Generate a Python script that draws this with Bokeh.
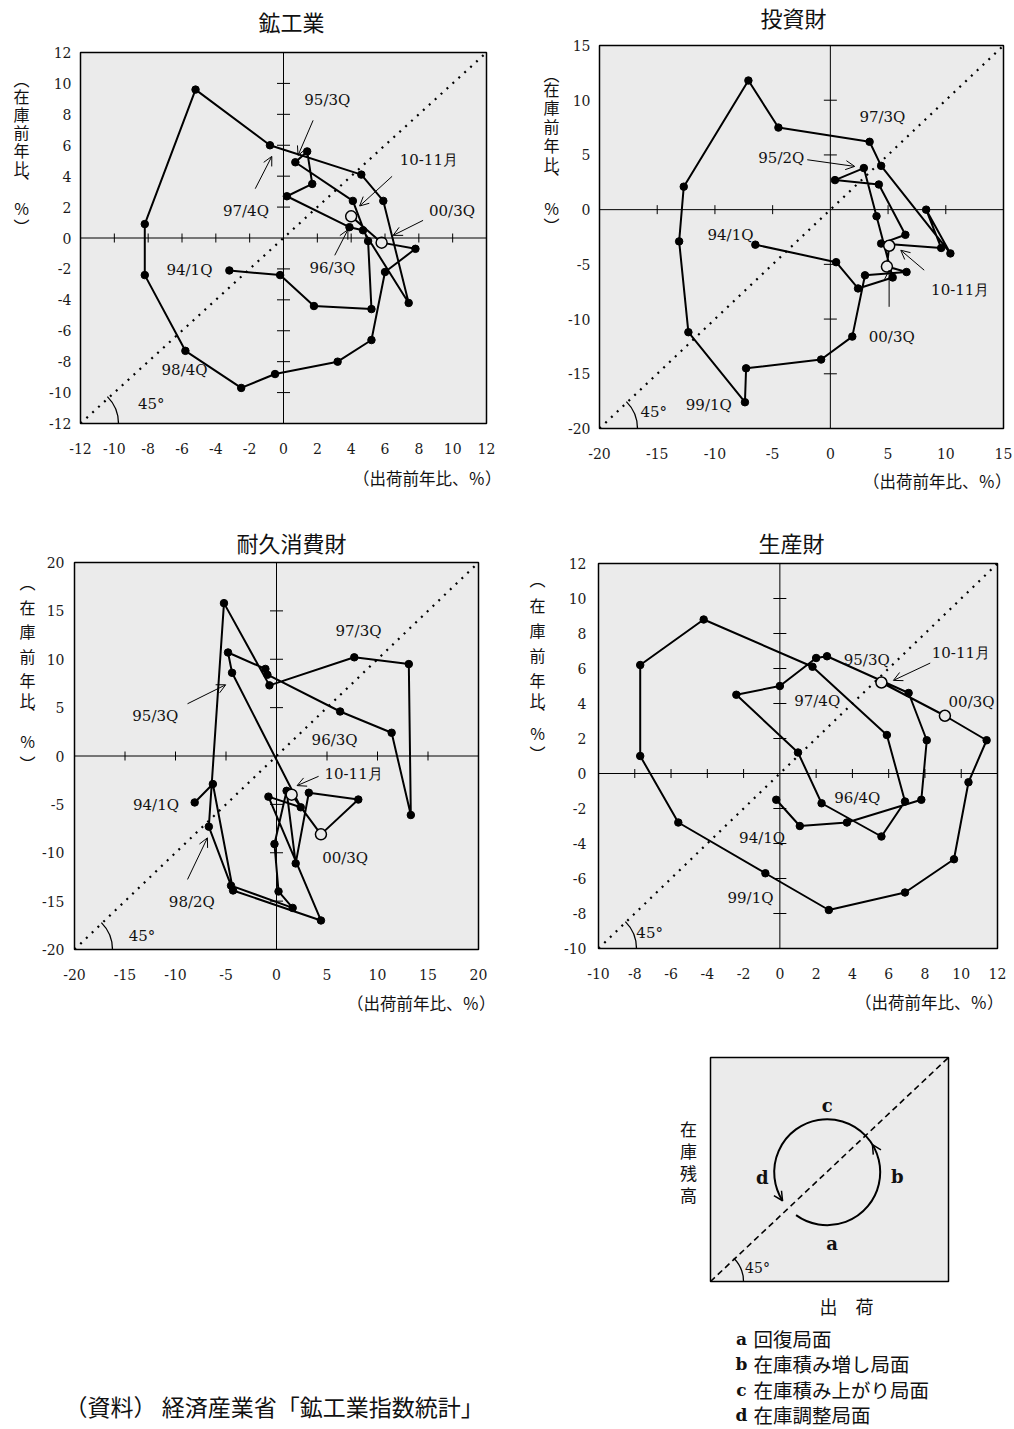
import numpy as np
from bokeh.plotting import figure
from bokeh.layouts import column, row
from bokeh.models import Label, Span, Arrow, OpenHead, FixedTicker, Range1d, Title
from bokeh.embed import file_html
from bokeh.resources import INLINE
from bokeh.core.properties import value

# ---------------- data ----------------
periods = ["94/1Q", "94/2Q", "94/3Q", "94/4Q", "95/1Q", "95/2Q", "95/3Q", "95/4Q",
           "96/1Q", "96/2Q", "96/3Q", "96/4Q", "97/1Q", "97/2Q", "97/3Q", "97/4Q",
           "98/1Q", "98/2Q", "98/3Q", "98/4Q", "99/1Q", "99/2Q", "99/3Q", "99/4Q",
           "00/1Q", "00/2Q", "00/3Q", "10-11月"]

# 鉱工業  (shipments y/y, inventory y/y)
ship_mining = [-3.2, -0.2, 1.8, 5.2, 5.0, 4.1, 0.7, 1.4, 1.7, 0.2, 3.9, 4.7, 7.4, 5.9,
               4.6, -0.8, -5.2, -8.2, -8.2, -5.8, -2.5, -0.5, 3.2, 5.2, 6.0, 7.8, 5.8, 4.0]
inv_mining = [-2.1, -2.4, -4.4, -4.6, -0.2, 2.4, 4.9, 5.6, 3.5, 2.7, 0.7, 0.5, -4.2, 2.4,
              4.1, 6.0, 9.6, 0.9, -2.4, -7.3, -9.7, -8.8, -8.0, -6.6, -2.2, -0.7, -0.3, 1.4]

# 投資財
ship_invest = [-6.5, 0.5, 2.4, 5.4, 4.0, 2.9, 0.4, 4.2, 6.5, 4.4, 9.6, 8.3, 10.4, 4.4,
               3.4, -4.5, -7.1, -12.7, -13.1, -12.3, -7.4, -7.3, -0.8, 1.9, 3.0, 6.6, 4.9, 5.1]
inv_invest = [-3.2, -4.8, -7.2, -6.2, -0.6, 3.8, 2.7, 2.3, -2.3, -3.1, -3.5, 0.0, -4.0, 4.0,
              6.2, 7.5, 11.8, 2.1, -2.9, -11.2, -17.6, -14.5, -13.7, -11.6, -6.0, -5.7, -5.2, -3.3]

# 耐久消費財
ship_durable = [-8.1, -6.3, -4.3, 4.4, -0.8, 2.4, -4.4, -4.8, -1.1, -0.9, 6.3, 11.4, 13.3, 13.1,
                7.7, -0.7, -5.2, -6.7, -4.5, 1.6, 0.2, -0.2, 1.0, 1.9, 3.2, 8.1, 4.4, 1.5]
inv_durable = [-4.8, -2.9, -13.9, -17.0, -4.2, -5.3, 8.6, 10.7, 9.0, 8.4, 4.6, 2.4, -6.1, 9.5,
               10.2, 7.3, 15.8, -7.3, -13.4, -15.7, -14.0, -9.1, -3.6, -11.1, -3.8, -4.5, -8.1, -4.0]

# 生産財
ship_producer = [-0.2, 1.1, 3.7, 7.8, 8.1, 7.1, 2.6, 2.0, 0.0, -2.4, 1.0, 2.3, 5.6, 6.9,
                 5.9, 1.8, -4.2, -7.7, -7.7, -5.6, -0.8, 2.7, 6.9, 9.6, 10.4, 11.4, 9.1, 5.6]
inv_producer = [-1.5, -3.0, -2.8, -1.5, 1.9, 4.6, 6.7, 6.6, 5.0, 4.5, 1.2, -1.7, -3.6, -1.6,
                2.2, 6.1, 8.8, 6.2, 1.0, -2.8, -5.7, -7.8, -6.8, -4.9, -0.5, 1.9, 3.3, 5.2]

# tick values / labels
ticks_mining = [-12, -10, -8, -6, -4, -2, 0, 2, 4, 6, 8, 10, 12]
ticks_invest = [-20, -15, -10, -5, 0, 5, 10, 15]
ticks_durable = [-20, -15, -10, -5, 0, 5, 10, 15, 20]
ticks_producer = [-10, -8, -6, -4, -2, 0, 2, 4, 6, 8, 10, 12]
labels_mining = [str(t) for t in ticks_mining]
labels_invest = [str(t) for t in ticks_invest]
labels_durable = [str(t) for t in ticks_durable]
labels_producer = [str(t) for t in ticks_producer]

titles = ["鉱工業", "投資財", "耐久消費財", "生産財"]
x_title = "（出荷前年比、％）"
y_title_chars = ["︵", "在", "庫", "前", "年", "比", "︑", "%", "︶"]
legend_letters = ["a", "b", "c", "d"]
legend_texts = ["回復局面", "在庫積み増し局面", "在庫積み上がり局面", "在庫調整局面"]
source_text = "（資料） 経済産業省「鉱工業指数統計」"

SERIF = "DejaVu Serif"
JP = "Noto Sans CJK JP"
BG = "#ebebeb"
INK = "#111111"


def blank_fig(w, h, xr, yr, bl=0, br=0):
    f = figure(width=w, height=h, x_range=Range1d(*xr), y_range=Range1d(*yr),
               output_backend="svg", toolbar_location=None, min_border=0,
               min_border_left=bl, min_border_right=br,
               x_axis_location=None, y_axis_location=None, outline_line_color=None,
               background_fill_color="white", border_fill_color="white")
    f.grid.visible = False
    return f


def ytitle_fig(w, h, row_top, cx, ys):
    f = blank_fig(w, h, (0, w), (0, h))
    f.text(x=[cx] * len(ys), y=[h - (y - row_top) for y in ys], text=y_title_chars,
           text_font=value(JP), text_font_size="16px", text_align="center",
           text_baseline="middle", text_color=INK)
    return f


def title_strip(cfg, S, row_top):
    w = cfg["size"][0]
    bl, br = cfg["borders"][0], cfg["borders"][1]
    fx0, fx1 = cfg["fx"]
    f = blank_fig(w, S, (fx0, fx1), (0, S), bl=bl, br=br)
    tx, ty = cfg["title_pos"]
    f.text(x=[tx], y=[S - (ty - row_top)], text=[cfg["title"]], text_font=value(JP),
           text_font_size="22px", text_align="center", text_baseline="middle", text_color=INK)
    return f


def make_panel(cfg):
    w, h = cfg["size"]
    bl, br, bt, bb = cfg["borders"]
    xr, yr = cfg["xr"], cfg["yr"]
    p = figure(width=w, height=h, x_range=Range1d(*xr), y_range=Range1d(*yr),
               output_backend="svg", toolbar_location=None,
               min_border_left=bl, min_border_right=br, min_border_top=bt, min_border_bottom=bb,
               background_fill_color=BG, border_fill_color="white",
               outline_line_color="black", outline_line_width=1.5)
    p.grid.visible = False

    ticks, labs = cfg["ticks"], cfg["labels"]
    for ax in (p.xaxis, p.yaxis):
        ax.ticker = FixedTicker(ticks=ticks)
        ax.major_label_overrides = {t: l for t, l in zip(ticks, labs)}
        ax.axis_line_color = None
        ax.major_tick_line_color = None
        ax.minor_tick_line_color = None
        ax.major_tick_out = 0
        ax.major_tick_in = 0
        ax.minor_tick_out = 0
        ax.major_label_text_font = SERIF
        ax.major_label_text_font_size = "14px"
        ax.major_label_text_color = "#1a1a1a"
    p.xaxis.major_label_standoff = 19
    p.yaxis.major_label_standoff = cfg["ystand"]

    # zero axes with cross ticks
    p.add_layout(Span(location=0, dimension="width", line_color="black", line_width=1))
    p.add_layout(Span(location=0, dimension="height", line_color="black", line_width=1))
    inner = [t for t in ticks if t != 0]
    ix = [t for t in inner if xr[0] < t < xr[1]]
    iy = [t for t in inner if yr[0] < t < yr[1]]
    p.scatter(ix, [0] * len(ix), marker="dash", size=9, angle=np.pi / 2,
              line_color="black", line_width=1)
    p.scatter([0] * len(iy), iy, marker="dash", size=13, line_color="black", line_width=1)

    # 45 degree line and arc
    lo, hi = max(xr[0], yr[0]), min(xr[1], yr[1])
    p.line([lo, hi], [lo, hi], line_dash="2 6", line_width=2.2, line_color="black")
    p.arc(x=[lo], y=[lo], radius=38, radius_units="screen", start_angle=0,
          end_angle=np.pi / 4, line_color="black", line_width=1.3)

    # series
    xs, ys = cfg["x"], cfg["y"]
    p.line(xs, ys, line_color="black", line_width=2)
    p.scatter(xs[:-2], ys[:-2], size=7.5, fill_color="black", line_color="black")
    p.scatter(xs[-2:], ys[-2:], size=11, fill_color=BG, line_color="black", line_width=1.5)

    for t, x, y in cfg["texts"]:
        p.add_layout(Label(x=x, y=y, text=t, text_font=SERIF, text_font_size="15px",
                           text_align="center", text_baseline="middle", text_color=INK))
    for x0, y0, x1, y1 in cfg["arrows"]:
        p.add_layout(Arrow(end=OpenHead(size=9, line_width=1, line_color="black"),
                           x_start=x0, y_start=y0, x_end=x1, y_end=y1,
                           line_width=1, line_color="black"))

    p.add_layout(Title(text=x_title, align="right", text_font=JP, text_font_size="16.5px",
                       text_font_style="normal", text_color=INK, standoff=cfg["xstand"],
                       offset=cfg["xoff"]), "below")
    return p


# row 1: strip 0..36, panels 36..520 ; row 2: strip 520..556, panels 556..1020
panels = [
    dict(size=(491, 484), borders=(46, 39, 16, 97), fx=(80, 486), xr=(-12, 12), yr=(-12, 12),
         ticks=ticks_mining, labels=labels_mining, x=ship_mining, y=inv_mining, ystand=9,
         title=titles[0], title_pos=(291, 20), xstand=14, xoff=-15,
         texts=[("95/3Q", 2.59, 8.90), ("10-11月", 8.59, 5.02), ("97/4Q", -2.22, 1.75),
                ("00/3Q", 9.96, 1.75), ("96/3Q", 2.89, -1.94), ("94/1Q", -5.56, -2.05),
                ("98/4Q", -5.85, -8.56), ("45°", -7.82, -10.71)],
         arrows=[(1.75, 7.61, 0.86, 5.34), (6.42, 3.99, 4.50, 2.07), (-1.67, 3.19, -0.69, 5.28),
                 (8.25, 1.14, 6.48, 0.17), (3.03, -1.12, 3.81, 0.54)]),
    dict(size=(452, 484), borders=(37, 11, 9, 92), fx=(599, 1003), xr=(-20, 15), yr=(-20, 15),
         ticks=ticks_invest, labels=labels_invest, x=ship_invest, y=inv_invest, ystand=9,
         title=titles[1], title_pos=(793, 16), xstand=11, xoff=-8,
         texts=[("97/3Q", 4.51, 8.45), ("95/2Q", -4.25, 4.74), ("94/1Q", -8.65, -2.34),
                ("10-11月", 11.25, -7.36), ("00/3Q", 5.32, -11.61), ("99/1Q", -10.53, -17.84),
                ("45°", -15.30, -18.51)],
         arrows=[(-2.0, 4.56, 2.11, 3.95), (8.13, -5.53, 6.10, -3.71), (5.09, -8.88, 5.09, -5.53)]),
    dict(size=(487, 464), borders=(34, 47, 6, 70), fx=(72, 478), xr=(-20, 20), yr=(-20, 20),
         ticks=ticks_durable, labels=labels_durable, x=ship_durable, y=inv_durable, ystand=10,
         title=titles[2], title_pos=(290, 541), xstand=12, xoff=-17,
         texts=[("97/3Q", 8.12, 12.87), ("95/3Q", -12.0, 4.09), ("96/3Q", 5.75, 1.69),
                ("10-11月", 7.63, -1.82), ("94/1Q", -11.93, -5.02), ("00/3Q", 6.80, -10.53),
                ("98/2Q", -8.38, -15.07), ("45°", -13.31, -18.61)],
         arrows=[(-8.81, 5.40, -5.03, 7.36), (4.17, -2.10, 2.04, -3.06), (-8.81, -12.76, -6.84, -8.46)]),
    dict(size=(456, 464), borders=(40, 17, 7, 71), fx=(598, 997), xr=(-10, 12), yr=(-10, 12),
         ticks=ticks_producer, labels=labels_producer, x=ship_producer, y=inv_producer, ystand=12,
         title=titles[3], title_pos=(791, 541), xstand=13, xoff=-6,
         texts=[("10-11月", 9.98, 6.88), ("95/3Q", 4.79, 6.50), ("00/3Q", 10.57, 4.07),
                ("97/4Q", 2.06, 4.13), ("96/4Q", 4.27, -1.39), ("94/1Q", -0.98, -3.67),
                ("99/1Q", -1.62, -7.09), ("45°", -7.18, -9.09)],
         arrows=[(8.29, 6.31, 6.26, 5.32)]),
]

figs = [make_panel(c) for c in panels]
strips = [title_strip(panels[0], 36, 0), title_strip(panels[1], 36, 0),
          title_strip(panels[2], 36, 520), title_strip(panels[3], 36, 520)]

yt1 = ytitle_fig(34, 520, 0, 21, [78, 95, 113, 131, 149, 167, 181, 207, 225])
yt2 = ytitle_fig(37, 520, 0, 26, [73, 88, 106, 125, 144, 163, 177, 207, 224])
yt3 = ytitle_fig(38, 500, 520, 27, [581, 606, 630, 655, 679, 699, 712, 740, 762])
yt4 = ytitle_fig(33, 500, 520, 12, [578, 604, 629, 654, 679, 699, 712, 732, 752])

# ---------------- bottom-left: source ----------------
p5 = blank_fig(525, 409, (0, 525), (0, 409))
p5.text(x=[64], y=[1429 - 1405], text=[source_text], text_font=value(JP), text_font_size="23px",
        text_align="left", text_baseline="middle", text_color=INK)

# ---------------- bottom-right: schematic (local coords: box = 0..238 x 0..224) ----------------
p6 = blank_fig(489, 409, (-185, 304), (-148, 261))
p6.quad(left=[0], right=[238], bottom=[0], top=[224], fill_color=BG,
        line_color="black", line_width=1.5)
p6.line([0, 238], [0, 224], line_dash="6 4", line_width=1.6, line_color="black")
cx, cy, r = 116.7, 109.3, 53
p6.arc(x=[cx], y=[cy], radius=r, start_angle=np.deg2rad(234), end_angle=np.deg2rad(212.6),
       direction="anticlock", line_color="black", line_width=2)
for ang in (212.6, 31.4):
    t = np.deg2rad(ang)
    ex, ey = cx + r * np.cos(t), cy + r * np.sin(t)
    tx, ty = -np.sin(t), np.cos(t)
    p6.add_layout(Arrow(end=OpenHead(size=9, line_width=1.5, line_color="black"),
                        x_start=ex - 3 * tx, y_start=ey - 3 * ty, x_end=ex, y_end=ey,
                        line_width=1.5, line_color="black"))
p6.arc(x=[0], y=[0], radius=33, radius_units="screen", start_angle=0, end_angle=np.pi / 4,
       line_color="black", line_width=1.3)
p6.text(x=[47], y=[14], text=["45°"], text_font=value(SERIF), text_font_size="14px",
        text_align="center", text_baseline="middle", text_color=INK)
p6.text(x=[116.7, 186.7, 51.7, 121.7], y=[176, 105, 104.3, 37.7], text=["c", "b", "d", "a"],
        text_font=value(SERIF), text_font_size="18px", text_font_style="bold",
        text_align="center", text_baseline="middle", text_color=INK)
p6.text(x=[688 - 710] * 4, y=[1281 - py for py in [1128, 1150, 1172, 1194]], text=list("在庫残高"),
        text_font=value(JP), text_font_size="17px", text_align="center", text_baseline="middle",
        text_color=INK)
p6.text(x=[846 - 710], y=[1281 - 1305], text=["出　荷"], text_font=value(JP), text_font_size="18px",
        text_align="center", text_baseline="middle", text_color=INK)
leg_y = [1281 - py for py in [1338, 1363, 1389, 1414]]
p6.text(x=[741 - 710] * 4, y=leg_y, text=legend_letters, text_font=value(SERIF),
        text_font_size="17px", text_font_style="bold", text_align="center",
        text_baseline="middle", text_color=INK)
p6.text(x=[753 - 710] * 4, y=leg_y, text=legend_texts, text_font=value(JP),
        text_font_size="19.5px", text_align="left", text_baseline="middle", text_color=INK)

layout = column(
    row(column(yt1), column(strips[0], figs[0]), column(yt2), column(strips[1], figs[1])),
    row(column(yt3), column(strips[2], figs[2]), column(yt4), column(strips[3], figs[3])),
    row(column(p5), column(p6)),
)
open("out.html", "w").write(file_html(layout, INLINE))
